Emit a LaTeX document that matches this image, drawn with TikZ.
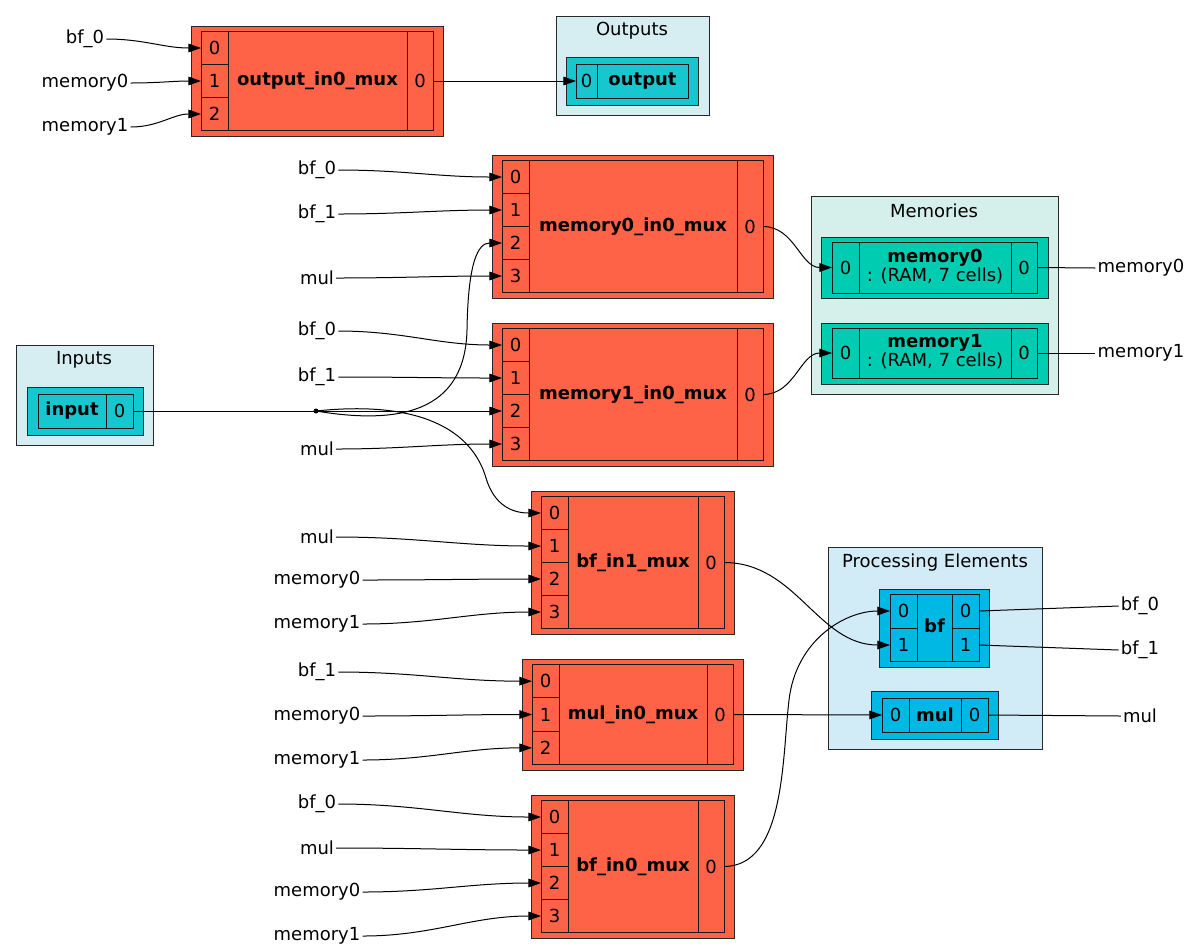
\documentclass[tikz,border=0pt]{standalone}
\usepackage{fontspec}
\setmainfont{DejaVu Sans}
\usetikzlibrary{arrows.meta}
\definecolor{muxc}{RGB}{255,99,71}
\definecolor{ioc}{RGB}{23,199,208}
\definecolor{memc}{RGB}{0,204,178}
\definecolor{pec}{RGB}{0,184,228}
\definecolor{clio}{RGB}{214,238,242}
\definecolor{clmem}{RGB}{213,240,234}
\definecolor{clpe}{RGB}{210,236,247}
\definecolor{bord}{RGB}{40,40,40}
\tikzset{
  txt/.style={font=\fontsize{13.5}{16}\selectfont, inner sep=1.5pt},
  btxt/.style={font=\fontsize{13.5}{16}\selectfont\bfseries, inner sep=1.5pt},
  outerbox/.style={draw=bord, line width=0.75pt},
  recline/.style={draw=black!90, line width=0.75pt},
  cluster/.style={draw=bord, line width=0.75pt},
  wire/.style={line width=0.75pt, black},
  arr/.style={wire, -{Triangle[length=9.5pt,width=6.5pt]}},
}
\newcommand\muxrec[7]{%
  \draw[outerbox, fill=muxc] (#2,#3) rectangle (#4,#5);
  \pgfmathsetmacro\ia{#2+10}\pgfmathsetmacro\ib{#3+5.5}%
  \pgfmathsetmacro\ic{#4-10}\pgfmathsetmacro\id{#5-5.5}%
  \draw[recline] (\ia,\ib) rectangle (\ic,\id);
  \draw[recline] (\ia+27,\ib) -- (\ia+27,\id);
  \draw[recline] (\ic-26,\ib) -- (\ic-26,\id);
  \pgfmathsetmacro\rh{(\id-\ib)/#7}%
  \pgfmathtruncatemacro\nm{#7-1}%
  \foreach \k in {1,...,\nm} {\draw[recline] (\ia,\ib+\k*\rh) -- (\ia+27,\ib+\k*\rh);}
  \foreach \k in {0,...,\nm} {%
    \coordinate (#1-p\k) at (\ia,\ib+\k*\rh+0.5*\rh);
    \node[txt] at (\ia+13.5,\ib+\k*\rh+0.5*\rh) {\k};}
  \node[btxt] (#1) at ({(\ia+27+\ic-26)/2},{(\ib+\id)/2}) {#6};
  \node[txt] at (\ic-13,{(\ib+\id)/2}) {0};
  \coordinate (#1-out) at (\ic,{(\ib+\id)/2});
}
\begin{document}
\begin{tikzpicture}[x=0.75pt,y=-0.75pt]
\useasboundingbox (0,0) rectangle (1191,951);
% clusters
\draw[cluster, fill=clio] (556,16) rectangle (709,115);
\node[txt] at (632,30.5) {Outputs};
\draw[cluster, fill=clio] (16,345) rectangle (153,445);
\node[txt] at (84,359.5) {Inputs};
\draw[cluster, fill=clmem] (811,196) rectangle (1058,394);
\node[txt] at (934,210.5) {Memories};
\draw[cluster, fill=clpe] (828,547) rectangle (1042,749);
\node[txt] at (935,562.5) {Processing Elements};

% input node
\draw[outerbox, fill=ioc] (27,387) rectangle (143,435);
\draw[recline] (38,394) rectangle (133,428);
\draw[recline] (106,394) -- (106,428);
\node[btxt] (input) at (72,411) {input};
\node[txt] at (119.5,411) {0};
\coordinate (input-out) at (133,411);

% output node
\draw[outerbox, fill=ioc] (566,57) rectangle (698,105);
\draw[recline] (576,64) rectangle (688,98);
\draw[recline] (597,64) -- (597,98);
\node[txt] at (586.5,81) {0};
\node[btxt] (output) at (642.5,81) {output};
\coordinate (output-in) at (576,81);

% memory nodes
\draw[outerbox, fill=memc] (821,237) rectangle (1048,298);
\draw[recline] (832,242) rectangle (1037,293);
\draw[recline] (859,242) -- (859,293) (1011,242) -- (1011,293);
\node[txt] at (845.5,267.5) {0};
\node[btxt] (memory0) at (935,258) {memory0};
\node[txt] at (935,276) {: (RAM, 7 cells)};
\node[txt] at (1024,267.5) {0};
\coordinate (memory0-in) at (832,267.5);
\coordinate (memory0-out) at (1037,267.5);

\draw[outerbox, fill=memc] (821,323) rectangle (1048,384);
\draw[recline] (832,328) rectangle (1037,378);
\draw[recline] (859,328) -- (859,378) (1011,328) -- (1011,378);
\node[txt] at (845.5,353) {0};
\node[btxt] (memory1) at (935,343) {memory1};
\node[txt] at (935,361) {: (RAM, 7 cells)};
\node[txt] at (1024,353) {0};
\coordinate (memory1-in) at (832,353);
\coordinate (memory1-out) at (1037,353);

% bf node
\draw[outerbox, fill=pec] (879,589) rectangle (989,667);
\draw[recline] (890,594) rectangle (979,661);
\draw[recline] (917,594) -- (917,661) (952,594) -- (952,661);
\draw[recline] (890,628) -- (917,628) (952,628) -- (979,628);
\node[txt] at (903.5,611) {0};
\node[txt] at (903.5,645) {1};
\node[btxt] (bf) at (934.5,626) {bf};
\node[txt] at (965.5,611) {0};
\node[txt] at (965.5,645) {1};
\coordinate (bf-i0) at (890,611);
\coordinate (bf-i1) at (890,645);
\coordinate (bf-o0) at (979,611);
\coordinate (bf-o1) at (979,645);

% mul node
\draw[outerbox, fill=pec] (871,691) rectangle (998,739);
\draw[recline] (882,698) rectangle (988,732);
\draw[recline] (909,698) -- (909,732) (961,698) -- (961,732);
\node[txt] at (895.5,715) {0};
\node[btxt] (mul) at (935,715) {mul};
\node[txt] at (974.5,715) {0};
\coordinate (mul-in) at (882,715);
\coordinate (mul-out) at (988,715);

% muxes
\muxrec{omux}{191}{26}{443}{136}{output\_in0\_mux}{3}
\muxrec{m0mux}{492}{155}{773}{298}{memory0\_in0\_mux}{4}
\muxrec{m1mux}{492}{323}{773}{466}{memory1\_in0\_mux}{4}
\muxrec{bf1mux}{531}{491}{734}{634}{bf\_in1\_mux}{4}
\muxrec{mulmux}{522}{659}{743}{770}{mul\_in0\_mux}{3}
\muxrec{bf0mux}{531}{795}{734}{938}{bf\_in0\_mux}{4}

% left labels
\node[txt] (a1) at (85,39) {bf\_0};
\node[txt] (a2) at (85,83) {memory0};
\node[txt] (a3) at (85,127) {memory1};
\node[txt] (b1) at (317,170) {bf\_0};
\node[txt] (b2) at (317,214) {bf\_1};
\node[txt] (b3) at (317,278) {mul};
\node[txt] (c1) at (317,331) {bf\_0};
\node[txt] (c2) at (317,377) {bf\_1};
\node[txt] (c3) at (317,449) {mul};
\node[txt] (d1) at (317,537) {mul};
\node[txt] (d2) at (317,580) {memory0};
\node[txt] (d3) at (317,624) {memory1};
\node[txt] (e1) at (317,672) {bf\_1};
\node[txt] (e2) at (317,716) {memory0};
\node[txt] (e3) at (317,760) {memory1};
\node[txt] (f1) at (317,804) {bf\_0};
\node[txt] (f2) at (317,848) {mul};
\node[txt] (f3) at (317,892) {memory0};
\node[txt] (f4) at (317,936) {memory1};

% right labels
\node[txt] (r1) at (1141,268) {memory0};
\node[txt] (r2) at (1141,353) {memory1};
\node[txt] (r3) at (1140,606) {bf\_0};
\node[txt] (r4) at (1140,650) {bf\_1};
\node[txt] (r5) at (1140,716) {mul};

% edges into muxes
\draw[arr] (a1.east) to[out=0,in=180] (omux-p0);
\draw[arr] (a2.east) to[out=0,in=180] (omux-p1);
\draw[arr] (a3.east) to[out=0,in=180] (omux-p2);
\draw[arr] (b1.east) to[out=0,in=180] (m0mux-p0);
\draw[arr] (b2.east) to[out=0,in=180] (m0mux-p1);
\draw[arr] (b3.east) to[out=0,in=180] (m0mux-p3);
\draw[arr] (c1.east) to[out=0,in=180] (m1mux-p0);
\draw[arr] (c2.east) to[out=0,in=180] (m1mux-p1);
\draw[arr] (c3.east) to[out=0,in=180] (m1mux-p3);
\draw[arr] (d1.east) to[out=0,in=180] (bf1mux-p1);
\draw[arr] (d2.east) to[out=0,in=180] (bf1mux-p2);
\draw[arr] (d3.east) to[out=0,in=180] (bf1mux-p3);
\draw[arr] (e1.east) to[out=0,in=180] (mulmux-p0);
\draw[arr] (e2.east) to[out=0,in=180] (mulmux-p1);
\draw[arr] (e3.east) to[out=0,in=180] (mulmux-p2);
\draw[arr] (f1.east) to[out=0,in=180] (bf0mux-p0);
\draw[arr] (f2.east) to[out=0,in=180] (bf0mux-p1);
\draw[arr] (f3.east) to[out=0,in=180] (bf0mux-p2);
\draw[arr] (f4.east) to[out=0,in=180] (bf0mux-p3);

% input fan-out
\coordinate (junc) at (316,411);
\draw[wire] (input-out) -- (junc);
\fill (junc) circle[radius=2.5];
\draw[arr] (junc) -- (m1mux-p2);
\draw[arr] (junc) .. controls (400,425) and (465,412) .. (467,330)
  .. controls (468,262) and (478,243) .. (m0mux-p2);
\draw[arr] (junc) .. controls (420,400) and (472,430) .. (486,478)
  .. controls (494,505) and (512,513) .. (bf1mux-p0);

% mux outputs
\draw[arr] (omux-out) -- (output-in);
\draw[arr] (m0mux-out) to[out=0,in=180] (memory0-in);
\draw[arr] (m1mux-out) to[out=0,in=180] (memory1-in);
\draw[arr] (bf1mux-out) to[out=0,in=180] (bf-i1);
\draw[arr] (mulmux-out) -- (mul-in);
\draw[arr] (bf0mux-out) .. controls (785,866) and (782,760) .. (789,700)
  .. controls (796,640) and (845,611) .. (bf-i0);

% PE / memory outputs
\draw[wire] (memory0-out) -- (r1.west);
\draw[wire] (memory1-out) -- (r2.west);
\draw[wire] (bf-o0) -- (r3.west);
\draw[wire] (bf-o1) -- (r4.west);
\draw[wire] (mul-out) -- (r5.west);
\end{tikzpicture}
\end{document}
